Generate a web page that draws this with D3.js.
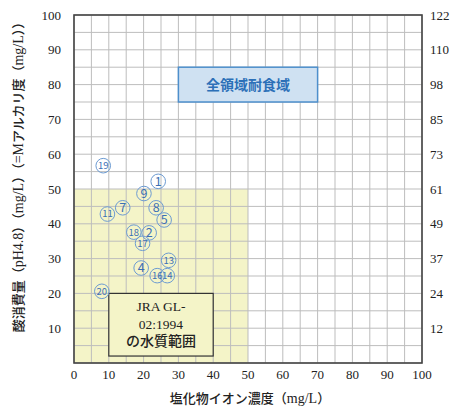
<!DOCTYPE html>
<html><head><meta charset="utf-8">
<script src="https://cdn.jsdelivr.net/npm/d3@7"></script>
<style>body{margin:0;background:#fff}svg{display:block}</style>
</head><body><svg id="c" width="452" height="410"></svg>
<script>
// ---- data ----
const pointIds   = [1, 2, 4, 5, 7, 8, 9, 11, 13, 14, 16, 17, 18, 19, 20];
const chloride   = [24.2, 21.6, 19.3, 25.9, 14.0, 23.6, 20.1, 9.6, 27.2, 26.8, 23.9, 19.7, 17.2, 8.4, 8.0];
const alkalinity = [52.2, 37.4, 27.3, 41.1, 44.6, 44.6, 48.7, 42.8, 29.5, 25.1, 25.1, 34.4, 37.6, 56.7, 20.6];
const xTickValues = [0, 10, 20, 30, 40, 50, 60, 70, 80, 90, 100];
const yTickValues = [10, 20, 30, 40, 50, 60, 70, 80, 90, 100];
const rightTickLabels = ["12", "24", "37", "49", "61", "73", "85", "98", "110", "122"];
const jraRegion = {x0: 0, x1: 50, y0: 0, y1: 50};
const jraBox = {x0: 10, x1: 40, y0: 2, y1: 20, lines: ["JRA GL-", "02:1994", "の水質範囲"]};
const fullBox = {x0: 30, x1: 70, y0: 75, y1: 85, label: "全領域耐食域"};

// ---- layout ----
const svg = d3.select("#c");
const L = 74, R = 422, T = 15, B = 363;
const x = d3.scaleLinear().domain([0, 100]).range([L, R]);
const y = d3.scaleLinear().domain([0, 100]).range([B, T]);
const serif = "'Liberation Serif','Times New Roman',serif";
const cjk = "'Noto Sans CJK JP','Noto Sans',sans-serif";

// yellow region
svg.append("rect")
  .attr("x", x(jraRegion.x0)).attr("y", y(jraRegion.y1))
  .attr("width", x(jraRegion.x1) - x(jraRegion.x0))
  .attr("height", y(jraRegion.y0) - y(jraRegion.y1))
  .attr("fill", "#f4f4c8");

// grid
const g = svg.append("g").attr("stroke", "#bdbdbd").attr("stroke-width", 1);
x.ticks(20).forEach(v => g.append("line").attr("x1", x(v)).attr("x2", x(v)).attr("y1", T).attr("y2", B));
y.ticks(20).forEach(v => g.append("line").attr("y1", y(v)).attr("y2", y(v)).attr("x1", L).attr("x2", R));

// JRA box
svg.append("rect")
  .attr("x", x(jraBox.x0)).attr("y", y(jraBox.y1))
  .attr("width", x(jraBox.x1) - x(jraBox.x0)).attr("height", y(jraBox.y0) - y(jraBox.y1))
  .attr("fill", "#f4f4c8").attr("stroke", "#333").attr("stroke-width", 1.2);
const jcx = x((jraBox.x0 + jraBox.x1) / 2);
jraBox.lines.forEach((t, i) => {
  svg.append("text").attr("x", jcx).attr("y", y(jraBox.y1) + 18 + i * 17.5)
    .attr("text-anchor", "middle")
    .attr("font-family", i < 2 ? serif : cjk)
    .attr("font-size", i < 2 ? 13.5 : 14)
    .attr("font-weight", i < 2 ? "normal" : 500)
    .attr("fill", "#222").text(t);
});

// full-range box
svg.append("rect")
  .attr("x", x(fullBox.x0)).attr("y", y(fullBox.y1))
  .attr("width", x(fullBox.x1) - x(fullBox.x0)).attr("height", y(fullBox.y0) - y(fullBox.y1))
  .attr("fill", "#cfe1f2").attr("stroke", "#4d8fcc").attr("stroke-width", 1.5);
svg.append("text").attr("x", x((fullBox.x0 + fullBox.x1) / 2)).attr("y", y((fullBox.y0 + fullBox.y1) / 2) + 5)
  .attr("text-anchor", "middle").attr("font-family", cjk).attr("font-size", 14).attr("font-weight", "bold")
  .attr("fill", "#2c70b8").text(fullBox.label);

// points
const pts = pointIds.map((id, i) => ({id, cx: chloride[i], cy: alkalinity[i]}));
const pg = svg.append("g").selectAll("g").data(pts).join("g")
  .attr("transform", d => `translate(${x(d.cx)},${y(d.cy)})`);
pg.append("circle").attr("r", 7.3).attr("fill", "none").attr("stroke", "#6c9bd2").attr("stroke-width", 1);
pg.append("text").attr("text-anchor", "middle")
  .attr("dy", d => d.id < 10 ? 4.4 : 3.4)
  .attr("font-family", cjk).attr("font-size", d => d.id < 10 ? 12.5 : 9.5)
  .attr("textLength", d => d.id < 10 ? null : 10.5).attr("lengthAdjust", "spacingAndGlyphs")
  .attr("fill", "#3b6fb5").text(d => d.id);

// frame
svg.append("rect").attr("x", L).attr("y", T).attr("width", R - L).attr("height", B - T)
  .attr("fill", "none").attr("stroke", "#444").attr("stroke-width", 1.6);

// tick labels
svg.append("g").selectAll("text").data(xTickValues).join("text")
  .attr("x", d => x(d)).attr("y", B + 16).attr("text-anchor", "middle")
  .attr("font-family", serif).attr("font-size", 13).attr("fill", "#222").text(d => d);
svg.append("g").selectAll("text").data(yTickValues).join("text")
  .attr("x", L - 13).attr("y", d => y(d) + 4.5).attr("text-anchor", "end")
  .attr("font-family", serif).attr("font-size", 13).attr("fill", "#222").text(d => d);
svg.append("g").selectAll("text").data(yTickValues).join("text")
  .attr("x", R + 8).attr("y", d => y(d) + 4.5).attr("text-anchor", "start")
  .attr("font-family", serif).attr("font-size", 13).attr("fill", "#222").text((d, i) => rightTickLabels[i]);

// axis titles
function mixed(sel, parts) {
  parts.forEach(([t, isSerif]) => sel.append("tspan")
    .attr("font-family", isSerif ? serif : cjk)
    .attr("font-size", isSerif ? 14 : 13)
    .attr("font-weight", isSerif ? "normal" : 500).text(t));
}
const xt = svg.append("text").attr("x", 250).attr("y", 403).attr("text-anchor", "middle").attr("fill", "#222");
mixed(xt, [["塩化物イオン濃度（", false], ["mg/L", true], ["）", false]]);
const yt = svg.append("text").attr("transform", "translate(23,174) rotate(-90)").attr("text-anchor", "middle").attr("fill", "#222");
mixed(yt, [["酸消費量（", false], ["pH4.8", true], ["）（", false], ["mg/L", true], ["）（", false], ["=M", true], ["アルカリ度（", false], ["mg/L", true], ["））", false]]);
</script></body></html>
